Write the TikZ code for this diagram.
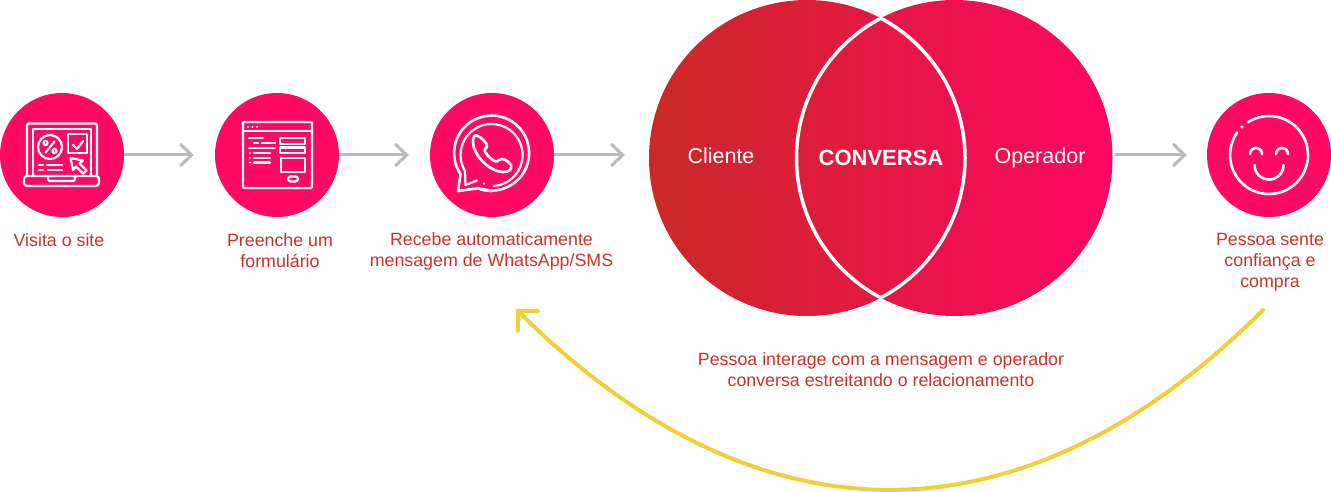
\documentclass[tikz,border=0pt]{standalone}
\usepackage{fontspec}
\setmainfont{Liberation Sans}
\usepackage{tikz}
\usetikzlibrary{positioning,arrows.meta,bending}
\definecolor{pinkstep}{HTML}{FF0A62}
\definecolor{redtext}{HTML}{C8322B}
\definecolor{greyarrow}{HTML}{BBBBBB}
\definecolor{yellowarrow}{HTML}{F4CE36}
\definecolor{vennleft}{HTML}{C92A26}
\definecolor{vennright}{HTML}{FF0562}
\tikzset{
  stepcircle/.style={circle, fill=pinkstep, minimum size=124pt, inner sep=0pt},
  venncircle/.style={circle, minimum size=316pt, inner sep=0pt},
  fwd/.style={-{Straight Barb[length=11pt, width=21pt, line cap=round]}, line width=3pt, greyarrow},
  back/.style={-{Straight Barb[length=14pt, width=28pt, flex=0, line cap=round]}, line width=4pt, yellowarrow, line cap=round},
  caption/.style={align=center, text=redtext, font=\fontsize{17.8}{21}\selectfont},
  venntext/.style={text=white, font=\fontsize{21.5}{24}\selectfont},
  icon/.style={draw=white, line width=2.6pt, line cap=round, line join=round},
  thinicon/.style={draw=white, line width=2.2pt, line cap=round, line join=round},
}

\begin{document}
\begin{tikzpicture}[x=1pt, y=1pt, yscale=-1]
  \useasboundingbox (0,0) rectangle (1331,492);

  \node[stepcircle] (stepsite) at (62,155) {};
  \node[stepcircle] (stepform) at (277,155) {};
  \node[stepcircle] (stepchat) at (492,155) {};
  \node[stepcircle] (stepsmile) at (1269,155) {};
  \node[venncircle] (cliente) at (807,158) {};
  \node[venncircle] (operador) at (954.5,158) {};

  % venn
  \path[left color=vennleft, right color=vennright] (cliente.center) circle (158) (operador.center) circle (158);
  \begin{scope}
    \clip (operador.center) circle (158);
    \draw[white, line width=3.5pt] (cliente.center) circle (158);
  \end{scope}
  \begin{scope}
    \clip (cliente.center) circle (158);
    \draw[white, line width=3.5pt] (operador.center) circle (158);
  \end{scope}
  \node[venntext] (clientetext) at (721,155.5) {Cliente};
  \node[venntext] (conversatext) at (881,157.5) {\fontsize{22}{26}\selectfont\bfseries CONVERSA};
  \node[venntext] (operadortext) at (1040,157.5) {Operador};

  % captions
  \node[caption] (capsite) at (59,240.5) {Visita o site};
  \node[caption] (capform) at (280,251) {Preenche um\\formulário};
  \node[caption] (capchat) at (491.5,251) {Recebe automaticamente\\mensagem de WhatsApp/SMS};
  \node[caption] (capsmile) at (1270,262.5) {Pessoa sente\\confiança e\\compra};
  \node[caption] (capvenn) at (881,370) {Pessoa interage com a mensagem e operador\\conversa estreitando o relacionamento};

  % arrows
  \draw[fwd, shorten >=21pt] (stepsite) -- (stepform);
  \draw[fwd, shorten >=21pt] (stepform) -- (stepchat);
  \draw[fwd, shorten >=24pt] (stepchat.east) -- (cliente.west |- stepchat.east);
  \draw[fwd, shorten <=2pt, shorten >=20pt] (operador.east |- stepsmile.west) -- (stepsmile.west);
  \coordinate (backstart) at (1263,310);
  \coordinate (backend) at (516,309);
  \draw[back] (backstart) .. controls (1023,550) and (756,550) .. (backend);

  % laptop
  \draw[thinicon] (33,175) |- (91,129) -- (91,175);
  \draw[thinicon, rounded corners=1.5pt] (27,175) |- (97,123.5) -- (97,175);
  \draw[thinicon, rounded corners=3pt] (24,176) -- (99,176) -- (99,186) -- (24,186) -- cycle;
  \draw[thinicon, rounded corners=1.5pt] (48,176.5) -- (48,181) -- (75,181) -- (75,176.5);
  \draw[thinicon] (50,147) circle (12);
  \draw[thinicon] (54.5,141.5) -- (45.5,152.5);
  \draw[thinicon] (45.5,143) circle (2);
  \draw[thinicon] (54.5,151) circle (2);
  \draw[thinicon] (68,134) rectangle (87,153);
  \draw[thinicon] (73,145) -- (77,149) -- (83,141);
  \draw[thinicon] (70.5,158) -- (83,160.5) -- (79.5,163.5) -- (86.5,170.5) -- (83,173.5) -- (76,166.5) -- (73,170) -- cycle;
  \draw[thinicon] (39,165) -- (43,165) (47,165) -- (62,165);
  \draw[thinicon] (39,170) -- (43,170) (48,170) -- (62,170);

  % form
  \draw[thinicon, rounded corners=1pt] (243,122) rectangle (312,188);
  \draw[thinicon] (243,131) -- (312,131);
  \foreach \dotx in {248,252.5,257}
    \fill[white] (\dotx,127) circle (1.2);
  \draw[thinicon] (249,138) -- (263,138) (254,143) -- (258,143) (262,143) -- (275,143) (249,148) -- (275,148);
  \foreach \rowy in {153,158,162.5} {
    \fill[white] (250,\rowy) circle (1.2);
    \draw[thinicon] (254,\rowy) -- (270,\rowy);
  }
  \draw[thinicon] (280,138) rectangle (305,144);
  \draw[thinicon] (280,147.5) rectangle (305,153);
  \draw[thinicon] (281,158) rectangle (305,172);
  \draw[thinicon, rounded corners=2.5pt] (288,176.5) rectangle (298,181.5);

  % chat
  \draw[icon] (460.5,174) arc (146:470:37.5) -- (491.7,191) arc (90:112:37.5) -- (458,191) -- cycle;
  \draw[thinicon] (465,171) arc (149:446:31);
  \draw[thinicon] (465,171) -- (465.5,185) -- (477,180.5);
  \fill[white] (484,183.5) circle (1.3);
  \draw[icon] (478,136) .. controls (474,134) and (473,137) .. (473,142)
     .. controls (473,155) and (490,172) .. (503,172)
     .. controls (510,172) and (512,169) .. (511,165)
     .. controls (508,161) and (503,157) .. (499,160)
     .. controls (498,161.5) and (496,162) .. (494,161)
     .. controls (491,159) and (487,155) .. (485,152)
     .. controls (484,150) and (485,148) .. (487,147)
     .. controls (488,144) and (482,138) .. (478,136) -- cycle;

  % smile
  \draw[icon] (stepsmile.center) ++ (237:39) arc (237:575:39);
  \fill[white] (stepsmile.center) ++ (226:39) circle (1.7);
  \draw[icon] (1250,154) arc (180:360:6);
  \draw[icon] (1276,154) arc (180:360:6);
  \draw[icon] (1254.5,165) arc (180:0:14.5);
\end{tikzpicture}
\end{document}
